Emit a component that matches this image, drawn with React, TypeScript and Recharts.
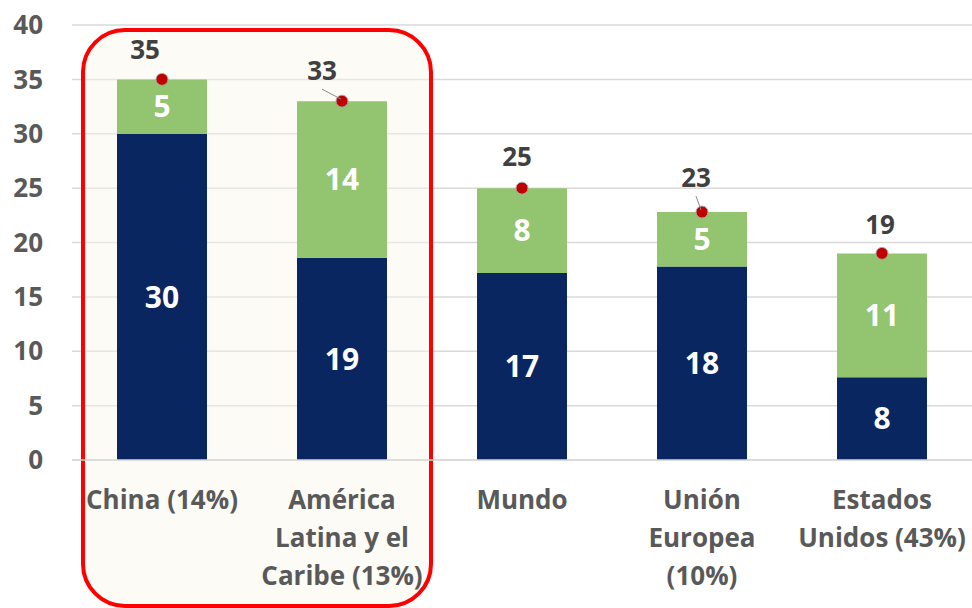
import {
  ComposedChart,
  Bar,
  Line,
  XAxis,
  YAxis,
  CartesianGrid,
  LabelList,
  ReferenceArea,
} from "recharts";

const categories = [
  "China (14%)",
  "América Latina y el Caribe (13%)",
  "Mundo",
  "Unión Europea (10%)",
  "Estados Unidos (43%)",
];
const categoryLines = [
  ["China (14%)"],
  ["América", "Latina y el", "Caribe (13%)"],
  ["Mundo"],
  ["Unión", "Europea", "(10%)"],
  ["Estados", "Unidos (43%)"],
];
const baseValues = [30, 18.6, 17.2, 17.8, 7.6];
const extraValues = [5, 14.4, 7.8, 5.0, 11.4];
const yTicks = [0, 5, 10, 15, 20, 25, 30, 35, 40];

// nudges for the total labels (Excel moved some of them by hand)
const totalLabelNudge = [
  { dx: -17, dy: -30, leader: false },
  { dx: -20, dy: -31, leader: true },
  { dx: -5, dy: -32, leader: false },
  { dx: -6, dy: -35, leader: true },
  { dx: -2, dy: -29, leader: false },
];

const data = categories.map((name, i) => ({
  name,
  base: baseValues[i],
  extra: extraValues[i],
  total: baseValues[i] + extraValues[i],
}));

const FONT = "'Open Sans', 'Liberation Sans', sans-serif";

const CategoryTick = ({ x, y, payload }: any) => {
  const lines = categoryLines[payload.index] || [payload.value];
  return (
    <text
      x={x}
      y={y + 33}
      textAnchor="middle"
      fill="#595959"
      fontSize={26}
      fontWeight={700}
      fontFamily={FONT}
    >
      {lines.map((l: string, i: number) => (
        <tspan key={i} x={x} dy={i === 0 ? 8 : 38}>
          {l}
        </tspan>
      ))}
    </text>
  );
};

const TotalLabel = ({ x, y, value, index }: any) => {
  const n = totalLabelNudge[index] || { dx: 0, dy: -30, leader: false };
  const lx = x + n.dx;
  const ly = y + n.dy;
  return (
    <g>
      {n.leader && (
        <line x1={lx} y1={ly + 19} x2={x - 1} y2={y - 2} stroke="#8c8c8c" strokeWidth={1} />
      )}
      <text
        x={lx}
        y={ly}
        textAnchor="middle"
        dominantBaseline="central"
        fill="#404040"
        fontSize={26}
        fontWeight={700}
        fontFamily={FONT}
      >
        {Math.round(value)}
      </text>
    </g>
  );
};

const HighlightBox = ({ x, width }: any) => (
  <rect
    x={x + 11}
    y={30}
    width={width - 12}
    height={576}
    rx={42}
    ry={42}
    fill="#fbf7ea"
    fillOpacity={0.45}
    stroke="#ff0000"
    strokeWidth={4}
  />
);

export default function App() {
  return (
    <div style={{ position: "absolute", left: 0, top: 0, background: "#fff" }}>
      <ComposedChart
        width={972}
        height={608}
        data={data}
        margin={{ top: 25, right: 0, bottom: 8, left: 0 }}
        style={{ fontFamily: FONT }}
      >
        <CartesianGrid vertical={false} stroke="#d9d9d9" strokeWidth={1.5} />
        <ReferenceArea
          x1={categories[0]}
          x2={categories[1]}
          y1={0}
          y2={40}
          ifOverflow="visible"
          shape={<HighlightBox />}
        />
        <XAxis
          dataKey="name"
          interval={0}
          height={140}
          axisLine={{ stroke: "#d9d9d9", strokeWidth: 1.5 }}
          tickLine={false}
          tick={<CategoryTick />}
        />
        <YAxis
          domain={[0, 40]}
          ticks={yTicks}
          width={72}
          axisLine={false}
          tickLine={false}
          tickSize={0}
          tickMargin={29}
          tick={{ fill: "#595959", fontSize: 26, fontWeight: 700 }}
        />
        <Bar dataKey="base" stackId="a" fill="#0a2660" barSize={90} isAnimationActive={false}>
          <LabelList
            dataKey="base"
            position="center"
            fill="#ffffff"
            fontSize={30}
            fontWeight={700}
            formatter={(v: any) => Math.round(v)}
          />
        </Bar>
        <Bar dataKey="extra" stackId="a" fill="#93c470" barSize={90} isAnimationActive={false}>
          <LabelList
            dataKey="extra"
            position="center"
            fill="#ffffff"
            fontSize={30}
            fontWeight={700}
            formatter={(v: any) => Math.round(v)}
          />
        </Bar>
        <Line
          dataKey="total"
          stroke="none"
          isAnimationActive={false}
          dot={{ r: 6, fill: "#c00000", stroke: "#a6a6a6", strokeWidth: 1 }}
          activeDot={false}
        >
          <LabelList dataKey="total" content={<TotalLabel />} />
        </Line>
      </ComposedChart>
    </div>
  );
}
